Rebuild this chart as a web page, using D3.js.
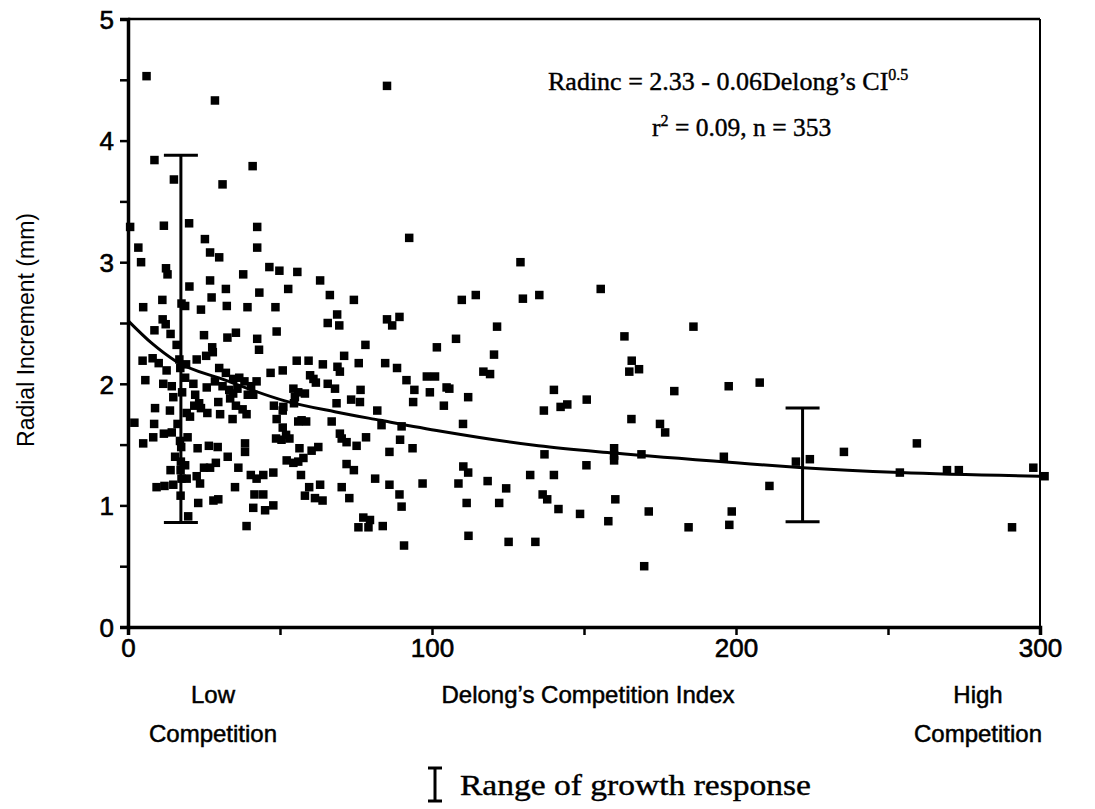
<!DOCTYPE html>
<html><head><meta charset="utf-8">
<script src="https://cdn.jsdelivr.net/npm/d3@7/dist/d3.min.js"></script>
<style>body{margin:0;background:#fff}svg{display:block}</style>
</head><body><svg id="c" width="1095" height="809"></svg>
<script>
// ---- data ----
const competitionIndex = [
6.1,28.6,8.7,15.1,31.1,41.0,0.7,20.1,11.8,42.5,3.4,25.3,27.0,30.0,4.3,42.5,37.9,46.5,49.8,55.7,
12.5,13.0,20.2,27.0,32.2,52.7,5.0,11.3,18.8,24.0,27.5,32.5,39.3,48.5,43.2,8.7,11.4,12.4,14.0,25.0,
27.7,35.5,32.7,42.5,43.1,48.9,16.0,4.8,8.1,10.1,12.7,16.9,19.1,22.6,25.7,27.9,30.0,32.2,34.6,36.6,
38.3,42.3,46.9,50.9,55.5,5.7,11.6,14.4,18.8,21.5,25.9,28.6,31.1,33.3,36.0,40.5,34.6,39.4,54.4,22.1,
14.9,21.8,23.4,29.7,33.6,35.5,37.7,41.2,48.0,50.9,54.6,2.1,8.6,8.9,13.8,16.3,19.3,20.4,24.0,26.1,
30.3,34.4,39.0,48.9,56.0,50.9,52.0,53.1,5.0,8.3,11.8,14.4,17.1,19.6,22.9,26.6,29.5,32.8,38.5,38.5,
48.7,56.4,9.4,12.0,14.0,15.5,18.8,19.3,22.6,23.7,25.0,27.0,28.9,36.3,35.2,40.4,42.3,44.5,47.8,56.0,
14.9,17.3,23.1,28.1,29.7,41.6,44.5,41.2,45.1,47.8,39.0,19.8,
17.6,17.2,17.8,17.5,17.4,17.6,17.3,
92.5,63.2,66.4,74.3,68.8,65.7,69.5,85.2,89.3,86.9,78.1,101.6,59.4,64.1,71.1,68.9,69.7,75.9,84.6,88.5,
59.9,91.6,98.3,101.0,61.0,61.8,65.7,68.1,76.5,94.2,99.3,104.8,56.0,58.2,54.9,51.1,68.6,73.4,76.3,82.0,
93.8,103.9,57.1,58.6,67.0,83.4,90.0,50.5,69.7,70.3,71.9,75.2,78.3,89.5,86.0,93.6,60.4,62.6,52.2,54.4,
57.7,56.9,71.9,74.3,81.3,86.0,96.9,59.6,63.2,70.3,58.2,61.5,64.0,72.8,89.3,90.0,77.4,79.6,75.8,79.1,
83.8,90.8,
129.1,109.8,114.4,129.9,135.3,155.5,121.4,107.9,120.4,116.9,119.1,163.3,165.7,164.9,168.1,186.0,
105.7,111.9,140.1,136.8,142.3,144.5,150.9,179.7,197.6,110.2,165.6,175.0,176.7,137.0,159.9,159.9,159.9,168.9,196.0,
110.3,111.9,108.7,118.3,124.4,132.3,140.1,150.8,111.4,122.1,136.4,137.9,141.6,148.7,158.0,160.3,171.3,184.4,198.6,197.8,
112.0,125.2,134.0,169.8,
207.8,235.5,259.5,219.7,224.3,211.0,253.9,269.4,273.3,297.8,301.5,290.8,
85.2
];
const radialIncrement = [
4.53,4.33,3.84,3.68,3.64,3.79,3.29,3.32,3.30,3.29,3.12,3.19,3.08,3.04,3.00,3.12,2.90,2.96,2.93,2.92,
2.95,2.90,2.80,2.85,2.78,2.78,2.63,2.69,2.64,2.61,2.71,2.64,2.63,2.63,2.75,2.44,2.53,2.49,2.41,2.40,
2.30,2.42,2.38,2.37,2.28,2.43,2.32,2.19,2.21,2.17,2.11,2.20,2.16,2.20,2.23,2.26,2.13,2.09,2.04,2.05,
2.02,2.02,2.09,2.11,2.19,2.03,2.00,1.98,2.05,2.00,1.97,2.02,1.98,1.95,1.96,1.98,1.92,1.91,1.96,1.91,
1.89,1.82,1.84,1.85,1.88,1.82,1.79,1.91,1.82,1.78,1.84,1.68,1.67,1.80,1.78,1.67,1.76,1.73,1.80,1.76,
1.75,1.71,1.75,1.71,1.69,1.64,1.58,1.55,1.51,1.56,1.59,1.60,1.53,1.56,1.47,1.49,1.48,1.40,1.51,1.44,
1.55,1.47,1.15,1.16,1.29,1.40,1.33,1.22,1.24,1.18,1.31,1.31,1.35,1.31,1.15,1.25,1.22,1.25,1.27,1.36,
1.17,1.29,1.02,1.04,1.05,1.09,1.09,0.98,0.96,1.00,0.83,0.91,
2.66,2.13,1.93,1.48,1.36,1.22,1.08,
3.20,2.85,2.73,2.69,2.57,2.50,2.48,2.53,2.55,2.48,2.32,2.30,2.19,2.16,2.23,2.14,2.10,2.17,2.17,2.13,
2.07,2.03,2.06,2.06,2.04,2.01,2.00,1.96,1.95,1.95,1.93,1.97,1.93,1.92,1.89,1.81,1.84,1.87,1.85,1.78,
1.85,1.82,1.70,1.69,1.69,1.66,1.65,1.54,1.59,1.55,1.52,1.49,1.56,1.54,1.44,1.47,1.45,1.48,1.37,1.35,
1.39,1.25,1.34,1.29,1.22,1.17,1.18,1.15,1.17,1.15,1.08,1.06,1.04,1.06,1.09,0.99,0.90,0.88,0.82,0.82,
0.83,0.67,
3.00,2.69,2.73,2.70,2.73,2.78,2.47,2.37,2.24,2.10,2.08,2.39,2.19,2.10,2.12,2.47,
1.96,1.89,1.95,1.78,1.81,1.83,1.87,1.94,1.98,1.67,1.71,1.67,1.60,1.42,1.47,1.41,1.37,1.42,1.40,
1.32,1.27,1.18,1.20,1.14,1.25,1.25,1.33,1.02,1.02,1.09,1.05,0.97,0.93,0.87,1.05,0.95,0.82,0.95,0.84,
0.75,0.70,0.70,0.50,
2.01,1.44,1.51,1.36,1.38,1.16,1.27,1.29,1.29,1.31,1.24,0.82,
4.45
];
const fitCI = [0, 8, 15.5, 32, 51.6, 68, 83, 103, 135, 160, 200, 222, 254, 300];
const fitRadinc = [2.52, 2.33, 2.19, 2.03, 1.86, 1.77, 1.70, 1.61, 1.49, 1.43, 1.35, 1.31, 1.27, 1.24];
const rangeCI = [17.4, 221.9];
const rangeLow = [0.86, 0.865];
const rangeHigh = [3.88, 1.80];
const xTicks = [0, 50, 100, 150, 200, 250, 300];
const xTickLabels = ["0", "", "100", "", "200", "", "300"];
const yTicks = [0, 0.5, 1, 1.5, 2, 2.5, 3, 3.5, 4, 4.5, 5];
const yTickLabels = ["0", "", "1", "", "2", "", "3", "", "4", "", "5"];
const equationLine1 = "Radinc = 2.33 - 0.06Delong\u2019s CI";
const equationExp = "0.5";
const equationLine2Base = "r";
const equationLine2Rest = " = 0.09, n = 353";
const xTitle = "Delong\u2019s Competition Index";
const yTitle = "Radial Increment (mm)";
const legendText = "Range of growth response";

// ---- drawing ----
const svg = d3.select("#c");
const L = 128, R = 1040, T = 19, B = 627;
const x = d3.scaleLinear().domain([0, 300]).range([L, R]);
const y = d3.scaleLinear().domain([0, 5]).range([B, T]);
const sans = "'Liberation Sans', Arial, Helvetica, sans-serif";
const serif = "'Liberation Serif', 'Times New Roman', serif";

// frame
svg.append("line").attr("x1", L).attr("x2", R).attr("y1", T).attr("y2", T).attr("stroke", "#000").attr("stroke-width", 2.5);
svg.append("line").attr("x1", R).attr("x2", R).attr("y1", T).attr("y2", B).attr("stroke", "#000").attr("stroke-width", 2);

// axes
const yAxis = d3.axisLeft(y).tickValues(yTicks).tickSize(8).tickPadding(6)
  .tickFormat((d, i) => yTickLabels[i]);
const gy = svg.append("g").attr("transform", `translate(${L},0)`).call(yAxis);
const xAxis = d3.axisBottom(x).tickValues(xTicks).tickSize(8).tickPadding(4)
  .tickFormat((d, i) => xTickLabels[i]);
const gx = svg.append("g").attr("transform", `translate(0,${B})`).call(xAxis);
[gx, gy].forEach(g => {
  g.select(".domain").attr("stroke", "#000").attr("stroke-width", 3.5);
  g.selectAll(".tick line").attr("stroke", "#000").attr("stroke-width", 2.5);
  g.selectAll(".tick text").attr("font-family", sans).attr("font-size", 26).attr("fill", "#000")
    .attr("stroke", "#000").attr("stroke-width", 0.6);
});
gy.selectAll(".tick text").attr("dy", "0.36em");

// fit curve
const fitPts = fitCI.map((c, i) => [c, fitRadinc[i]]);
svg.append("path").datum(fitPts)
  .attr("d", d3.line().x(d => x(d[0])).y(d => y(d[1])).curve(d3.curveMonotoneX))
  .attr("fill", "none").attr("stroke", "#000").attr("stroke-width", 3);

// points
const pts = competitionIndex.map((c, i) => [c, radialIncrement[i]]);
svg.append("g").selectAll("rect").data(pts).join("rect")
  .attr("x", d => x(d[0]) - 4.25).attr("y", d => y(d[1]) - 4.25)
  .attr("width", 8.5).attr("height", 8.5).attr("fill", "#000");

// range bars
const cap = 17;
const bars = svg.append("g").attr("stroke", "#000").attr("stroke-width", 3);
rangeCI.forEach((c, i) => {
  const cx = x(c);
  bars.append("line").attr("x1", cx).attr("x2", cx).attr("y1", y(rangeLow[i])).attr("y2", y(rangeHigh[i]));
  bars.append("line").attr("x1", cx - cap).attr("x2", cx + cap).attr("y1", y(rangeLow[i])).attr("y2", y(rangeLow[i]));
  bars.append("line").attr("x1", cx - cap).attr("x2", cx + cap).attr("y1", y(rangeHigh[i])).attr("y2", y(rangeHigh[i]));
});

// equation
const eq = svg.append("text").attr("x", 548).attr("y", 90).attr("font-family", serif).attr("font-size", 26)
  .attr("fill", "#000").attr("stroke", "#000").attr("stroke-width", 0.4);
eq.append("tspan").text(equationLine1);
eq.append("tspan").attr("font-size", 16).attr("dy", -10).text(equationExp);
const eq2 = svg.append("text").attr("x", 652).attr("y", 136).attr("font-family", serif).attr("font-size", 25.5)
  .attr("fill", "#000").attr("stroke", "#000").attr("stroke-width", 0.4);
eq2.append("tspan").text(equationLine2Base);
eq2.append("tspan").attr("font-size", 16).attr("dy", -10).text("2");
eq2.append("tspan").attr("dy", 10).text(equationLine2Rest);

// axis titles
const tStyle = s => s.attr("font-family", sans).attr("font-size", 24).attr("fill", "#000")
  .attr("stroke", "#000").attr("stroke-width", 0.5).attr("text-anchor", "middle");
svg.append("text").attr("x", 213).attr("y", 703).text("Low").call(tStyle);
svg.append("text").attr("x", 213).attr("y", 742).text("Competition").call(tStyle);
svg.append("text").attr("x", 588).attr("y", 703).text(xTitle).call(tStyle);
svg.append("text").attr("x", 978).attr("y", 703).text("High").call(tStyle);
svg.append("text").attr("x", 978).attr("y", 742).text("Competition").call(tStyle);
svg.append("text").attr("transform", "translate(34,330) rotate(-90)").text(yTitle)
  .attr("font-family", sans).attr("font-size", 23).attr("fill", "#000").attr("text-anchor", "middle");

// legend
const lg = svg.append("g").attr("stroke", "#000").attr("stroke-width", 3);
const lx = 435, ly1 = 768, ly2 = 801;
lg.append("line").attr("x1", lx).attr("x2", lx).attr("y1", ly1).attr("y2", ly2);
lg.append("line").attr("x1", lx - 7).attr("x2", lx + 7).attr("y1", ly1).attr("y2", ly1);
lg.append("line").attr("x1", lx - 7).attr("x2", lx + 7).attr("y1", ly2).attr("y2", ly2);
svg.append("text").attr("x", 460).attr("y", 795).attr("font-family", serif).attr("font-size", 29)
  .attr("textLength", 351).attr("lengthAdjust", "spacingAndGlyphs")
  .attr("fill", "#000").attr("stroke", "#000").attr("stroke-width", 0.4).text(legendText);
</script>
</body></html>
